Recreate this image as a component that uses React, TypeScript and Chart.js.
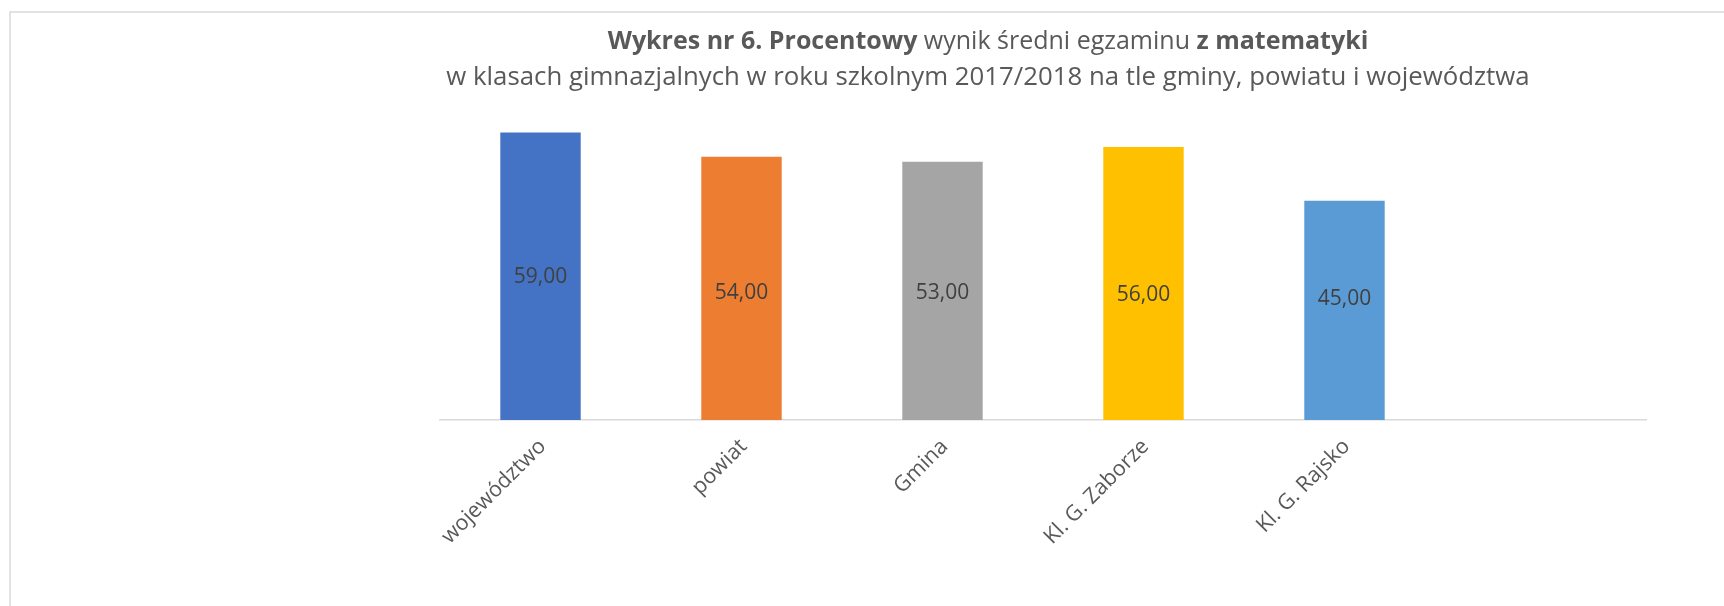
import React, { useEffect, useRef } from "react";
import { Chart, registerables } from "chart.js";

Chart.register(...registerables);

const categories = ["województwo", "powiat", "Gmina", "Kl. G. Zaborze", "Kl. G. Rajsko", ""];
const values = [59, 54, 53, 56, 45, null];
const barColors = ["#4472C4", "#ED7D31", "#A5A5A5", "#FFC000", "#5B9BD5", "#4472C4"];
const titleLine1 = [
  { text: "Wykres nr 6. Procentowy", bold: true },
  { text: " wynik średni egzaminu ", bold: false },
  { text: "z matematyki", bold: true },
];
const titleLine2 = "w klasach gimnazjalnych w roku szkolnym 2017/2018 na tle gminy, powiatu i województwa";

// vertical nudges (px) of the value labels relative to the bar middle, as placed in the original
const valueLabelNudge = [1, 5, 2.5, 12, -11, 0];

const FONT = "'Open Sans', sans-serif";

const framePlugin = {
  id: "frame",
  beforeDraw(chart: any) {
    const ctx = chart.ctx;
    ctx.save();
    ctx.strokeStyle = "#d9d9d9";
    ctx.lineWidth = 1.5;
    ctx.beginPath();
    ctx.moveTo(10, chart.height + 5);
    ctx.lineTo(10, 12);
    ctx.lineTo(chart.width + 5, 12);
    ctx.stroke();
    ctx.restore();
  },
};

const titlePlugin = {
  id: "customTitle",
  afterDraw(chart: any) {
    const ctx = chart.ctx;
    ctx.save();
    ctx.fillStyle = "#595959";
    ctx.textBaseline = "middle";
    const cx = 988;
    const size1 = 25;
    const size2 = 25.8;
    const parts = titleLine1.map((p) => {
      ctx.font = `${p.bold ? "bold " : ""}${size1}px ${FONT}`;
      return { ...p, w: ctx.measureText(p.text).width };
    });
    const total = parts.reduce((a, p) => a + p.w, 0);
    let x = cx - total / 2;
    ctx.textAlign = "left";
    for (const p of parts) {
      ctx.font = `${p.bold ? "bold " : ""}${size1}px ${FONT}`;
      ctx.fillText(p.text, x, 42);
      x += p.w;
    }
    ctx.font = `${size2}px ${FONT}`;
    ctx.textAlign = "center";
    ctx.fillText(titleLine2, cx, 78);
    ctx.restore();
  },
};

const valueLabelPlugin = {
  id: "valueLabels",
  afterDatasetsDraw(chart: any) {
    const ctx = chart.ctx;
    const meta = chart.getDatasetMeta(0);
    ctx.save();
    ctx.fillStyle = "#404040";
    ctx.font = `21px ${FONT}`;
    ctx.textAlign = "center";
    ctx.textBaseline = "middle";
    meta.data.forEach((bar: any, i: number) => {
      const v = values[i];
      if (v == null) return;
      const y = (bar.y + bar.base) / 2 + (valueLabelNudge[i] || 0);
      ctx.fillText(v.toFixed(2).replace(".", ","), bar.x, y);
    });
    ctx.restore();
  },
};

export default function App() {
  const ref = useRef<HTMLCanvasElement>(null);
  useEffect(() => {
    if (!ref.current) return;
    const chart = new Chart(ref.current, {
      type: "bar",
      data: {
        labels: categories,
        datasets: [
          {
            data: values as any,
            backgroundColor: barColors,
            categoryPercentage: 1,
            barPercentage: 0.4,
          },
        ],
      },
      options: {
        animation: false,
        responsive: false,
        maintainAspectRatio: false,
        layout: { padding: { left: 440, right: 78, top: 78.75, bottom: 0 } },
        plugins: { legend: { display: false }, tooltip: { enabled: false }, title: { display: false } },
        scales: {
          x: {
            grid: { display: false },
            border: { display: true, color: "#d9d9d9", width: 1.5 },
            ticks: {
              color: "#595959",
              font: { family: FONT, size: 21.5 },
              minRotation: 45,
              maxRotation: 45,
              labelOffset: 2,
              padding: 6,
              autoSkip: false,
            },
            afterFit: (scale: any) => {
              scale.height = 186;
            },
          },
          y: {
            display: false,
            min: 0,
            max: 70,
          },
        },
      },
      plugins: [framePlugin, titlePlugin, valueLabelPlugin],
    });
    return () => chart.destroy();
  }, []);
  return (
    <div style={{ position: "absolute", left: 0, top: 0, width: 1724, height: 606, background: "#fff" }}>
      <canvas ref={ref} width={1724} height={606} style={{ display: "block" }} />
    </div>
  );
}
